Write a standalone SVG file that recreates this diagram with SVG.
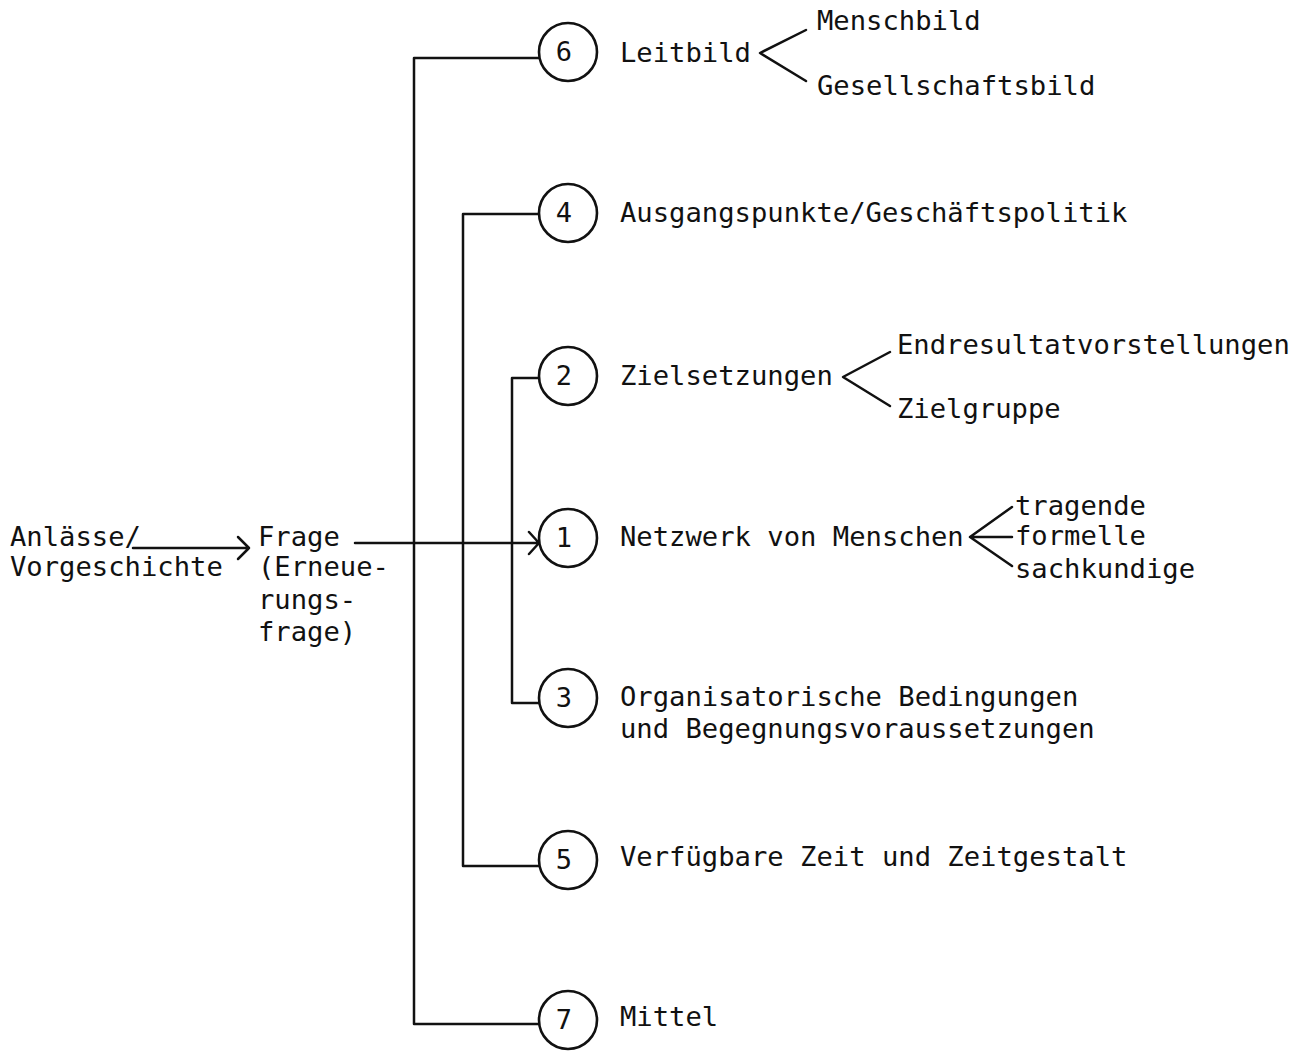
<svg xmlns="http://www.w3.org/2000/svg" width="1306" height="1051" viewBox="0 0 1306 1051">
<style>
text{font-family:"DejaVu Sans Mono","Liberation Mono",monospace;font-size:27.2px;fill:#111}
.c{fill:#fff;stroke:#111;stroke-width:2.6}
.n{text-anchor:middle;font-size:27px}
.l{fill:none;stroke:#111;stroke-width:2.5;stroke-linecap:round;stroke-linejoin:round}
</style>
<rect width="1306" height="1051" fill="#fff"/>
<g id="connectors">
<path class="l" d="M539,58 H414 V1024 H539"/>
<path class="l" d="M539,214 H463 V866 H539"/>
<path class="l" d="M539,378 H512 V703 H539"/>
<path class="l" d="M355,543 H539 M529,532 L539,543 L529,554"/>
<path class="l" d="M133,548 H249 M238,537 L249,548 L238,559"/>
<path class="l" d="M806,30 L760,53 L806,81"/>
<path class="l" d="M890,352 L843,377 L890,406"/>
<path class="l" d="M1012,507 L970,537 L1012,566 M970,537 H1012"/>
</g>
<g id="source">
<text x="10" y="546">Anlässe/</text>
<text x="10" y="576">Vorgeschichte</text>
</g>
<g id="frage">
<text x="258" y="546">Frage</text>
<text x="258" y="576">(Erneue-</text>
<text x="258" y="609">rungs-</text>
<text x="258" y="641">frage)</text>
</g>
<g id="node6">
<circle class="c" cx="568" cy="52" r="29"/>
<text class="n" x="564" y="61">6</text>
<text x="620" y="62">Leitbild</text>
<text x="817" y="30">Menschbild</text>
<text x="817" y="95">Gesellschaftsbild</text>
</g>
<g id="node4">
<circle class="c" cx="568" cy="213" r="29"/>
<text class="n" x="564" y="222">4</text>
<text x="620" y="222">Ausgangspunkte/Geschäftspolitik</text>
</g>
<g id="node2">
<circle class="c" cx="568" cy="376" r="29"/>
<text class="n" x="564" y="385">2</text>
<text x="620" y="385">Zielsetzungen</text>
<text x="897" y="354">Endresultatvorstellungen</text>
<text x="897" y="418">Zielgruppe</text>
</g>
<g id="node1">
<circle class="c" cx="568" cy="538" r="29"/>
<text class="n" x="564" y="547">1</text>
<text x="620" y="546">Netzwerk von Menschen</text>
<text x="1015" y="515">tragende</text>
<text x="1015" y="545">formelle</text>
<text x="1015" y="578">sachkundige</text>
</g>
<g id="node3">
<circle class="c" cx="568" cy="698" r="29"/>
<text class="n" x="564" y="707">3</text>
<text x="620" y="706">Organisatorische Bedingungen</text>
<text x="620" y="738">und Begegnungsvoraussetzungen</text>
</g>
<g id="node5">
<circle class="c" cx="568" cy="860" r="29"/>
<text class="n" x="564" y="869">5</text>
<text x="620" y="866">Verfügbare Zeit und Zeitgestalt</text>
</g>
<g id="node7">
<circle class="c" cx="568" cy="1020" r="29"/>
<text class="n" x="564" y="1029">7</text>
<text x="620" y="1026">Mittel</text>
</g>
</svg>
